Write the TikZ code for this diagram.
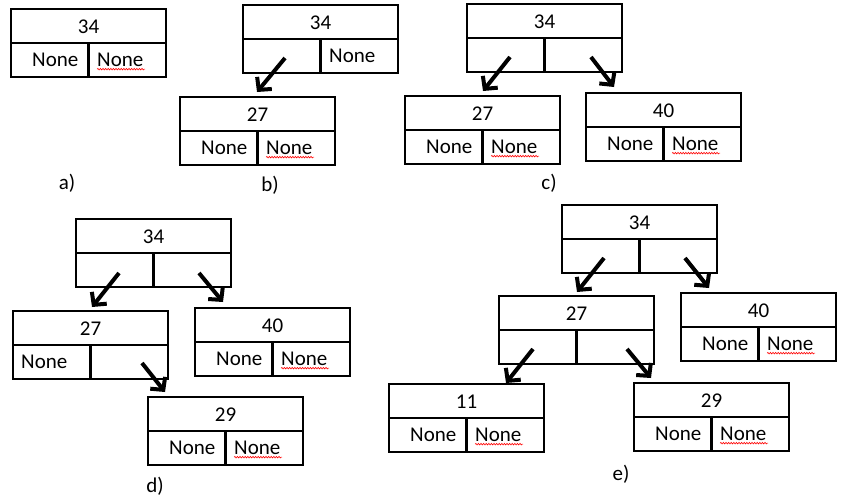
\documentclass[tikz,border=0pt]{standalone}
\usepackage{fontspec}
\setmainfont{Carlito}
\usetikzlibrary{calc,arrows.meta,decorations.pathmorphing}
\tikzset{
 tb/.style={draw, line width=2.2pt, minimum width=155pt, minimum height=68pt, inner sep=0pt, outer sep=0pt},
 tbl/.style={line width=2.2pt},
 txt/.style={inner sep=0pt, font=\fontsize{21}{25}\selectfont},
 squig/.style={red, line width=0.6pt, decorate, decoration={snake, amplitude=0.8pt, segment length=2.6pt}},
 arr/.style={line width=4pt, -{Straight Barb[length=9pt,width=19pt]}},
}
\newcommand{\bstbox}[4]{%
 \node[tb, anchor=north west] (#1) at (#2,#3) {};
 \draw[tbl] (#1.west) -- (#1.east);
 \draw[tbl] (#1.center) -- (#1.south);
 \node[txt] (#1v) at ($(#1.north)!0.5!(#1.center)+(0pt,-0.5pt)$) {#4};
}
\newcommand{\noneL}[2]{\node[txt, anchor=west] (#1l) at ($(#1.south west)+(#2pt,17.5pt)$) {None};}
\newcommand{\noneR}[1]{\node[txt, anchor=west] (#1r) at ($(#1.south)+(8.5pt,17.5pt)$) {None};}
\newcommand{\noneRu}[1]{\noneR{#1}\draw[squig] ($(#1r.base west)+(0pt,-3pt)$) -- ($(#1r.base east)+(1.5pt,-3pt)$);}
\newcommand{\bsarrow}[6]{\draw[arr] ($(#1.north west)+(#2pt,-#3pt)$) -- ($(#4.north west)+(#5pt,#6pt)$);}
\begin{document}
\begin{tikzpicture}[x=1pt,y=-1pt]
\useasboundingbox[fill=white] (0,0) rectangle (846,499);
% a)
\bstbox{a34}{11}{9}{34}\noneL{a34}{21}\noneRu{a34}
\node[txt] (la) at (67,183) {a)};
% b)
\bstbox{b34}{243}{5}{34}\noneR{b34}
\bstbox{b27}{180}{97}{27}\noneL{b27}{21}\noneRu{b27}
\bsarrow{b34}{42}{53}{b27}{77}{5}
\node[txt] (lb) at (270,185) {b)};
% c)
\bstbox{c34}{467}{4}{34}
\bstbox{c27}{405}{96}{27}\noneL{c27}{21}\noneRu{c27}
\bstbox{c40}{586}{93}{40}\noneL{c40}{21}\noneRu{c40}
\bsarrow{c34}{43}{53}{c27}{78}{5}
\bsarrow{c34}{124}{53}{c40}{28}{6}
\node[txt] (lc) at (549,183) {c)};
% d)
\bstbox{d34}{76}{219}{34}
\bstbox{d27}{13}{311}{27}\noneL{d27}{8}
\bstbox{d40}{195}{308}{40}\noneL{d40}{21}\noneRu{d40}
\bstbox{d29}{148}{397}{29}\noneL{d29}{21}\noneRu{d29}
\bsarrow{d34}{43}{54}{d27}{79}{4}
\bsarrow{d34}{123}{54}{d40}{28}{6}
\bsarrow{d27}{129}{52}{d29}{17}{5}
\node[txt] (ld) at (155,486) {d)};
% e)
\bstbox{e34}{562}{205}{34}
\bstbox{e27}{499}{296}{27}
\bstbox{e40}{681}{293}{40}\noneL{e40}{21}\noneRu{e40}
\bstbox{e11}{389}{384}{11}\noneL{e11}{21}\noneRu{e11}
\bstbox{e29}{634}{383}{29}\noneL{e29}{21}\noneRu{e29}
\bsarrow{e34}{42}{53}{e27}{78}{4}
\bsarrow{e34}{123}{53}{e40}{28}{5}
\bsarrow{e27}{34}{53}{e11}{117}{1}
\bsarrow{e27}{128}{53}{e29}{17}{5}
\node[txt] (le) at (621,474) {e)};
\end{tikzpicture}
\end{document}
